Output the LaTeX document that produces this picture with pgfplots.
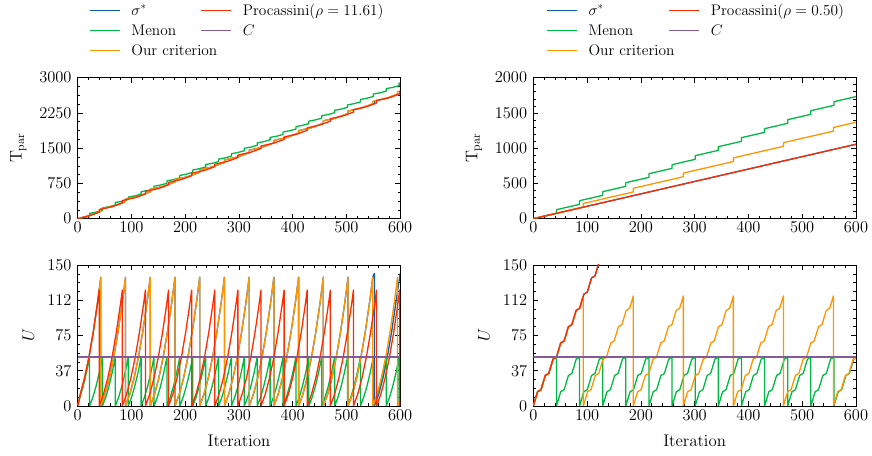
\RequirePackage{fix-cm}
\documentclass[border=0pt]{standalone}
\usepackage[OT1]{fontenc}
\renewcommand{\rmdefault}{cmr}
\usepackage{pgfplots}
\pgfplotsset{compat=1.18}
\definecolor{cblue}{HTML}{0C5DA5}
\definecolor{cgreen}{HTML}{00B945}
\definecolor{corange}{HTML}{FF9500}
\definecolor{cred}{HTML}{FF2C00}
\definecolor{cpurple}{HTML}{845B97}
\pgfplotsset{
  myaxis/.style={
    scale only axis, width=322.5bp, height=141bp, anchor=south west,
    xmin=0, xmax=600, xtick={0,100,...,600}, minor x tick num=4,
    tick align=inside, tick pos=both,
    major tick length=5bp, minor tick length=2.6bp,
    every tick/.append style={line width=0.6bp, black},
    axis line style={line width=0.8bp, black},
    tick label style={font=\fontsize{16.5}{19}\selectfont},
    label style={font=\fontsize{16.9}{20}\selectfont},
    xticklabel style={inner sep=0pt, yshift=-3.5bp},
    yticklabel style={inner sep=0pt, xshift=-6bp},
    xlabel style={at={([yshift=-40.5bp]axis description cs:0.5,0)}, anchor=base, inner sep=0pt},
    /pgf/number format/1000 sep={},
    every axis plot/.append style={line width=1.3bp, line join=round},
    legend image code/.code={\draw[##1, line width=1.3bp] (0bp,0bp) -- (30bp,0bp);},
    legend cell align=left,
  },
  tparlabel/.style={ylabel={$\mathrm{T_{par}}$},
    ylabel style={at={([xshift=-51bp]axis description cs:0,0.5)}, anchor=south, inner sep=0pt}},
  ulabel/.style={ylabel={$U$},
    ylabel style={at={([xshift=-43.5bp]axis description cs:0,0.5)}, anchor=south, inner sep=0pt}},
  mylegend/.style={
    legend columns=2,
    legend style={draw=none, fill=none, inner sep=0pt, anchor=north west,
      font=\fontsize{15.4}{18}\selectfont,
      nodes={inner sep=0pt, text height=11bp, text depth=1bp},
      row sep=8.3bp,
      /tikz/every odd column/.append style={column sep=11bp},
      /tikz/every even column/.append style={column sep=#1}},
  },
}
\begin{document}
\begin{tikzpicture}[x=1bp,y=1bp]
\path[use as bounding box] (0,0) rectangle (872,456);

% ---------------- top left ----------------
\begin{axis}[myaxis, mylegend=9bp, at={(77.7bp,237.3bp)},
  ymin=0, ymax=3000, ytick={0,750,1500,2250,3000}, minor y tick num=3,
  tparlabel,
  legend style={at={(0.035,1.5227)}}]
\addlegendimage{cblue}\addlegendentry{\makebox[60bp][l]{$\sigma^{*}$}}
\addlegendimage{cred}\addlegendentry{Procassini($\rho = 11.61$)}
\addlegendimage{cgreen}\addlegendentry{\makebox[60bp][l]{Menon}}
\addlegendimage{cpurple}\addlegendentry{$C$}
\addlegendimage{corange}\addlegendentry{\makebox[60bp][l]{Our criterion}}
% sigma*
\addplot[cblue, forget plot] coordinates {
(0,0)(21,60.8)(43,155.1)(43,207.1)(67,269.2)(89,363.4)(89,415.4)
(113,477.5)(135,571.7)(135,623.7)(159,685.8)(181,780.0)(181,832.0)
(205,894.1)(227,988.3)(227,1040.3)(251,1102.4)(273,1196.6)(273,1248.6)
(297,1310.7)(319,1404.9)(319,1456.9)(343,1519.0)(365,1613.2)(365,1665.2)
(389,1727.3)(411,1821.5)(411,1873.5)(435,1935.6)(457,2029.8)(457,2081.8)
(481,2143.9)(503,2238.1)(503,2290.1)(527,2352.2)(552,2451.0)(552,2503.0)
(576,2565.1)(600,2665.0)};
% Menon
\addplot[cgreen, forget plot] coordinates {
(0,0)(12,25.7)(22,61.2)(22,113.2)(34,138.9)(46,176.6)(46,228.6)
(58,254.3)(70,292.0)(70,344.0)(82,369.7)(94,407.4)(94,459.4)
(106,485.1)(118,522.8)(118,574.8)(130,600.5)(142,638.2)(142,690.2)
(154,715.9)(166,753.6)(166,805.6)(178,831.3)(190,869.0)(190,921.0)
(202,946.7)(214,984.4)(214,1036.4)(226,1062.1)(238,1099.8)(238,1151.8)
(250,1177.5)(262,1215.2)(262,1267.2)(274,1292.9)(286,1330.6)(286,1382.6)
(298,1408.3)(310,1446.0)(310,1498.0)(322,1523.7)(334,1561.4)(334,1613.4)
(346,1639.1)(358,1676.8)(358,1728.8)(370,1754.5)(382,1792.2)(382,1844.2)
(394,1869.9)(406,1907.6)(406,1959.6)(418,1985.3)(430,2023.0)(430,2075.0)
(442,2100.7)(454,2138.4)(454,2190.4)(466,2216.1)(478,2253.8)(478,2305.8)
(490,2331.5)(502,2369.2)(502,2421.2)(514,2446.9)(526,2484.6)(526,2536.6)
(538,2562.3)(550,2600.0)(550,2652.0)(562,2677.7)(574,2715.4)(574,2767.4)
(586,2793.1)(598,2830.8)(598,2882.8)(600,2886.3)};
% Our criterion
\addplot[corange, forget plot] coordinates {
(0,0)(21,60.8)(43,155.1)(43,207.1)(67,269.2)(89,363.4)(89,415.4)
(113,477.5)(135,571.7)(135,623.7)(159,685.8)(181,780.0)(181,832.0)
(205,894.1)(227,988.3)(227,1040.3)(251,1102.4)(273,1196.6)(273,1248.6)
(297,1310.7)(319,1404.9)(319,1456.9)(343,1519.0)(365,1613.2)(365,1665.2)
(389,1727.3)(411,1821.5)(411,1873.5)(435,1935.6)(457,2029.8)(457,2081.8)
(481,2143.9)(503,2238.1)(503,2290.1)(527,2352.2)(549,2446.4)(549,2498.4)
(573,2560.5)(595,2654.7)(595,2706.7)(600,2716.1)};
% Procassini
\addplot[cred, forget plot] coordinates {
(0,0)(21,60.8)(40,140.1)(40,192.1)(64,254.2)(83,333.5)(83,385.5)
(107,447.6)(126,526.9)(126,578.9)(150,641.0)(169,720.3)(169,772.3)
(193,834.4)(212,913.7)(212,965.7)(236,1027.8)(255,1107.1)(255,1159.1)
(279,1221.2)(298,1300.5)(298,1352.5)(322,1414.6)(341,1493.9)(341,1545.9)
(365,1608.0)(384,1687.3)(384,1739.3)(408,1801.4)(427,1880.7)(427,1932.7)
(451,1994.8)(470,2074.1)(470,2126.1)(494,2188.2)(513,2267.5)(513,2319.5)
(537,2381.6)(556,2460.9)(556,2512.9)(580,2575.0)(599,2654.3)(599,2706.3)(600,2707.0)};
\end{axis}

% ---------------- bottom left ----------------
\begin{axis}[myaxis, at={(77.7bp,50bp)},
  ymin=0, ymax=150, ytick={0,37.5,75,112.5,150}, yticklabels={0,37,75,112,150},
  minor y tick num=3, ulabel, xlabel={Iteration}]
% sigma*
\addplot[cblue] coordinates {
(0,0)(5,12.6)(13,29.9)(21,52)(29,78.8)(37,110.2)(43,137)(43,0)
(51,12.6)(59,29.9)(67,52)(75,78.8)(83,110.2)(89,137)(89,0)
(97,12.6)(105,29.9)(113,52)(121,78.8)(129,110.2)(135,137)(135,0)
(143,12.6)(151,29.9)(159,52)(167,78.8)(175,110.2)(181,137)(181,0)
(189,12.6)(197,29.9)(205,52)(213,78.8)(221,110.2)(227,137)(227,0)
(235,12.6)(243,29.9)(251,52)(259,78.8)(267,110.2)(273,137)(273,0)
(281,12.6)(289,29.9)(297,52)(305,78.8)(313,110.2)(319,137)(319,0)
(327,12.6)(335,29.9)(343,52)(351,78.8)(359,110.2)(365,137)(365,0)
(373,12.6)(381,29.9)(389,52)(397,78.8)(405,110.2)(411,137)(411,0)
(419,12.6)(427,29.9)(435,52)(443,78.8)(451,110.2)(457,137)(457,0)
(465,12.6)(473,29.9)(481,52)(489,78.8)(497,110.2)(503,137)(503,0)
(511,12.6)(519,29.9)(527,52)(535,78.8)(543,110.2)(549,137)(552,141)(552,0)
(560,12.6)(568,29.9)(576,52)(584,78.8)(592,110.2)(600,141)};
% Menon
\addplot[cgreen] coordinates {
(0,0)(4,9)(10,20.7)(16,35)(22,52)(22,0)
(28,9)(34,20.7)(40,35)(46,52)(46,0)
(52,9)(58,20.7)(64,35)(70,52)(70,0)
(76,9)(82,20.7)(88,35)(94,52)(94,0)
(100,9)(106,20.7)(112,35)(118,52)(118,0)
(124,9)(130,20.7)(136,35)(142,52)(142,0)
(148,9)(154,20.7)(160,35)(166,52)(166,0)
(172,9)(178,20.7)(184,35)(190,52)(190,0)
(196,9)(202,20.7)(208,35)(214,52)(214,0)
(220,9)(226,20.7)(232,35)(238,52)(238,0)
(244,9)(250,20.7)(256,35)(262,52)(262,0)
(268,9)(274,20.7)(280,35)(286,52)(286,0)
(292,9)(298,20.7)(304,35)(310,52)(310,0)
(316,9)(322,20.7)(328,35)(334,52)(334,0)
(340,9)(346,20.7)(352,35)(358,52)(358,0)
(364,9)(370,20.7)(376,35)(382,52)(382,0)
(388,9)(394,20.7)(400,35)(406,52)(406,0)
(412,9)(418,20.7)(424,35)(430,52)(430,0)
(436,9)(442,20.7)(448,35)(454,52)(454,0)
(460,9)(466,20.7)(472,35)(478,52)(478,0)
(484,9)(490,20.7)(496,35)(502,52)(502,0)
(508,9)(514,20.7)(520,35)(526,52)(526,0)
(532,9)(538,20.7)(544,35)(550,52)(550,0)
(556,9)(562,20.7)(568,35)(574,52)(574,0)
(580,9)(586,20.7)(592,35)(598,52)(598,0)(600,2.7)};
% Our criterion
\addplot[corange] coordinates {
(0,0)(5,12.6)(13,29.9)(21,52)(29,78.8)(37,110.2)(43,137)(43,0)
(51,12.6)(59,29.9)(67,52)(75,78.8)(83,110.2)(89,137)(89,0)
(97,12.6)(105,29.9)(113,52)(121,78.8)(129,110.2)(135,137)(135,0)
(143,12.6)(151,29.9)(159,52)(167,78.8)(175,110.2)(181,137)(181,0)
(189,12.6)(197,29.9)(205,52)(213,78.8)(221,110.2)(227,137)(227,0)
(235,12.6)(243,29.9)(251,52)(259,78.8)(267,110.2)(273,137)(273,0)
(281,12.6)(289,29.9)(297,52)(305,78.8)(313,110.2)(319,137)(319,0)
(327,12.6)(335,29.9)(343,52)(351,78.8)(359,110.2)(365,137)(365,0)
(373,12.6)(381,29.9)(389,52)(397,78.8)(405,110.2)(411,137)(411,0)
(419,12.6)(427,29.9)(435,52)(443,78.8)(451,110.2)(457,137)(457,0)
(465,12.6)(473,29.9)(481,52)(489,78.8)(497,110.2)(503,137)(503,0)
(511,12.6)(519,29.9)(527,52)(535,78.8)(543,110.2)(549,137)(549,0)
(557,12.6)(565,29.9)(573,52)(581,78.8)(589,110.2)(595,137)(595,0)(600,7.3)};
% Procassini
\addplot[cred] coordinates {
(0,0)(5,12.6)(13,29.9)(21,52)(29,78.8)(37,110.2)(40,123.3)(40,0)
(48,12.6)(56,29.9)(64,52)(72,78.8)(80,110.2)(83,123.3)(83,0)
(91,12.6)(99,29.9)(107,52)(115,78.8)(123,110.2)(126,123.3)(126,0)
(134,12.6)(142,29.9)(150,52)(158,78.8)(166,110.2)(169,123.3)(169,0)
(177,12.6)(185,29.9)(193,52)(201,78.8)(209,110.2)(212,123.3)(212,0)
(220,12.6)(228,29.9)(236,52)(244,78.8)(252,110.2)(255,123.3)(255,0)
(263,12.6)(271,29.9)(279,52)(287,78.8)(295,110.2)(298,123.3)(298,0)
(306,12.6)(314,29.9)(322,52)(330,78.8)(338,110.2)(341,123.3)(341,0)
(349,12.6)(357,29.9)(365,52)(373,78.8)(381,110.2)(384,123.3)(384,0)
(392,12.6)(400,29.9)(408,52)(416,78.8)(424,110.2)(427,123.3)(427,0)
(435,12.6)(443,29.9)(451,52)(459,78.8)(467,110.2)(470,123.3)(470,0)
(478,12.6)(486,29.9)(494,52)(502,78.8)(510,110.2)(513,123.3)(513,0)
(521,12.6)(529,29.9)(537,52)(545,78.8)(553,110.2)(556,123.3)(556,0)
(564,12.6)(572,29.9)(580,52)(588,78.8)(596,110.2)(599,123.3)(599,0)(600,1.3)};
% C
\addplot[cpurple] coordinates {(0,52)(600,52)};
\end{axis}

% ---------------- top right ----------------
\begin{axis}[myaxis, mylegend=20bp, at={(533.3bp,237.3bp)}, width=322.7bp,
  ymin=0, ymax=2000, ytick={0,500,1000,1500,2000}, minor y tick num=4,
  tparlabel,
  legend style={at={(0.0394,1.5227)}}]
\addlegendimage{cblue}\addlegendentry{\makebox[60bp][l]{$\sigma^{*}$}}
\addlegendimage{cred}\addlegendentry{Procassini($\rho = 0.50$)}
\addlegendimage{cgreen}\addlegendentry{\makebox[60bp][l]{Menon}}
\addlegendimage{cpurple}\addlegendentry{$C$}
\addlegendimage{corange}\addlegendentry{\makebox[60bp][l]{Our criterion}}
\addplot[cblue, forget plot] coordinates {
(0,0)(100,176)(200,352)(300,528)(400,704)(500,880)(600,1056)};
\addplot[cgreen, forget plot] coordinates {
(0,0)(43,75.7)(43,127.7)(86,203.4)(86,255.4)(129,331.0)(129,383.0)
(172,458.7)(172,510.7)(215,586.4)(215,638.4)(258,714.1)(258,766.1)
(301,841.8)(301,893.8)(344,969.4)(344,1021.4)(387,1097.1)(387,1149.1)
(430,1224.8)(430,1276.8)(473,1352.5)(473,1404.5)(516,1480.2)(516,1532.2)
(559,1607.8)(559,1659.8)(600,1732.0)};
\addplot[corange, forget plot] coordinates {
(0,0)(93,163.7)(93,215.7)(186,379.4)(186,431.4)(279,595.0)(279,647.0)
(372,810.7)(372,862.7)(465,1026.4)(465,1078.4)(558,1242.1)(558,1294.1)(600,1368.0)};
\addplot[cred, forget plot] coordinates {
(0,0)(100,176)(200,352)(300,528)(400,704)(500,880)(600,1056)};
\end{axis}

% ---------------- bottom right ----------------
\begin{axis}[myaxis, at={(533.3bp,50bp)}, width=322.7bp,
  ymin=0, ymax=150, ytick={0,37.5,75,112.5,150}, yticklabels={0,37,75,112,150},
  minor y tick num=3, ulabel, xlabel={Iteration}]
\addplot[cblue] coordinates {
(0,0)(8,15.2)(14.3,17.3)(22.3,32.5)(28.7,34.6)(36.7,49.8)(43,51.9)
(51,67.1)(57.3,69.2)(65.3,84.4)(71.7,86.5)(79.7,101.7)(86,103.8)
(94,119)(100.3,121.1)(108.3,136.3)(114.7,138.4)(122.7,153.6)(129,155.7)};
\addplot[cgreen] coordinates {
(0,0)(8,15.2)(14.3,17.3)(22.3,32.5)(28.7,34.6)(36.7,49.8)(43,51.9)(43,0)
(51,15.2)(57.3,17.3)(65.3,32.5)(71.7,34.6)(79.7,49.8)(86,51.9)(86,0)
(94,15.2)(100.3,17.3)(108.3,32.5)(114.7,34.6)(122.7,49.8)(129,51.9)(129,0)
(137,15.2)(143.3,17.3)(151.3,32.5)(157.7,34.6)(165.7,49.8)(172,51.9)(172,0)
(180,15.2)(186.3,17.3)(194.3,32.5)(200.7,34.6)(208.7,49.8)(215,51.9)(215,0)
(223,15.2)(229.3,17.3)(237.3,32.5)(243.7,34.6)(251.7,49.8)(258,51.9)(258,0)
(266,15.2)(272.3,17.3)(280.3,32.5)(286.7,34.6)(294.7,49.8)(301,51.9)(301,0)
(309,15.2)(315.3,17.3)(323.3,32.5)(329.7,34.6)(337.7,49.8)(344,51.9)(344,0)
(352,15.2)(358.3,17.3)(366.3,32.5)(372.7,34.6)(380.7,49.8)(387,51.9)(387,0)
(395,15.2)(401.3,17.3)(409.3,32.5)(415.7,34.6)(423.7,49.8)(430,51.9)(430,0)
(438,15.2)(444.3,17.3)(452.3,32.5)(458.7,34.6)(466.7,49.8)(473,51.9)(473,0)
(481,15.2)(487.3,17.3)(495.3,32.5)(501.7,34.6)(509.7,49.8)(516,51.9)(516,0)
(524,15.2)(530.3,17.3)(538.3,32.5)(544.7,34.6)(552.7,49.8)(559,51.9)(559,0)
(567,15.2)(573.3,17.3)(581.3,32.5)(587.7,34.6)(595.7,49.8)(600,51.2)};
\addplot[corange] coordinates {
(0,0)(8,15.2)(14.3,17.3)(22.3,32.5)(28.7,34.6)(36.7,49.8)(43,51.9)
(51,67.1)(57.3,69.2)(65.3,84.4)(71.7,86.5)(79.7,101.7)(86,103.8)(93,117.1)(93,0)
(101,15.2)(107.3,17.3)(115.3,32.5)(121.7,34.6)(129.7,49.8)(136,51.9)
(144,67.1)(150.3,69.2)(158.3,84.4)(164.7,86.5)(172.7,101.7)(179,103.8)(186,117.1)(186,0)
(194,15.2)(200.3,17.3)(208.3,32.5)(214.7,34.6)(222.7,49.8)(229,51.9)
(237,67.1)(243.3,69.2)(251.3,84.4)(257.7,86.5)(265.7,101.7)(272,103.8)(279,117.1)(279,0)
(287,15.2)(293.3,17.3)(301.3,32.5)(307.7,34.6)(315.7,49.8)(322,51.9)
(330,67.1)(336.3,69.2)(344.3,84.4)(350.7,86.5)(358.7,101.7)(365,103.8)(372,117.1)(372,0)
(380,15.2)(386.3,17.3)(394.3,32.5)(400.7,34.6)(408.7,49.8)(415,51.9)
(423,67.1)(429.3,69.2)(437.3,84.4)(443.7,86.5)(451.7,101.7)(458,103.8)(465,117.1)(465,0)
(473,15.2)(479.3,17.3)(487.3,32.5)(493.7,34.6)(501.7,49.8)(508,51.9)
(516,67.1)(522.3,69.2)(530.3,84.4)(536.7,86.5)(544.7,101.7)(551,103.8)(558,117.1)(558,0)
(566,15.2)(572.3,17.3)(580.3,32.5)(586.7,34.6)(594.7,49.8)(600,51.6)};
\addplot[cred] coordinates {
(0,0)(8,15.2)(14.3,17.3)(22.3,32.5)(28.7,34.6)(36.7,49.8)(43,51.9)
(51,67.1)(57.3,69.2)(65.3,84.4)(71.7,86.5)(79.7,101.7)(86,103.8)
(94,119)(100.3,121.1)(108.3,136.3)(114.7,138.4)(122.7,153.6)(129,155.7)};
\addplot[cpurple] coordinates {(0,52)(600,52)};
\end{axis}
\end{tikzpicture}
\end{document}
